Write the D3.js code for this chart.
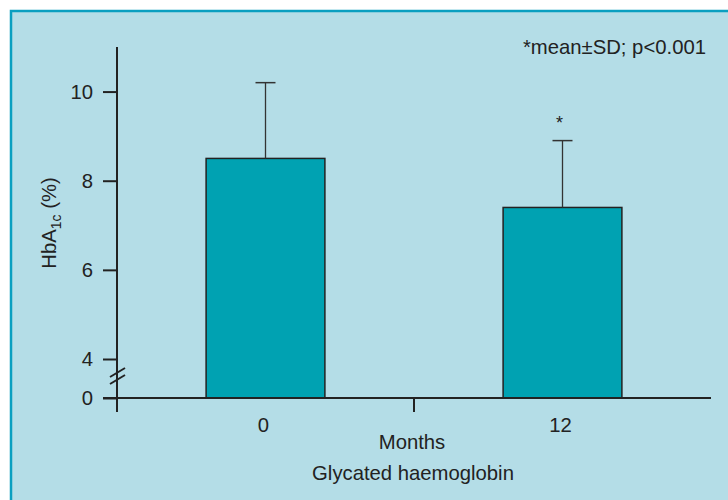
<!DOCTYPE html>
<html>
<head>
<meta charset="utf-8">
<script src="https://cdn.jsdelivr.net/npm/d3@7"></script>
<style>
  body { margin: 0; background: #fff; }
  svg { display: block; font-family: "Liberation Sans", Arial, sans-serif; }
</style>
</head>
<body>
<svg width="728" height="500"></svg>
<script>
// data
var months = ['0', '12'];
var means = [8.5, 7.4];
var sds = [1.7, 1.5];
var starred = [false, true];
var yTicks = [0, 4, 6, 8, 10];

var svg = d3.select('svg');
var fs = 20.3;

// panel background
svg.append('rect')
    .attr('x', 10).attr('y', 10)
    .attr('width', 718).attr('height', 490)
    .attr('fill', '#b4dde7');
svg.append('path')
    .attr('d', 'M11,500V11H728')
    .attr('fill', 'none')
    .attr('stroke', '#0a9fc0')
    .attr('stroke-width', 2.5);

// scales (axis is broken between 0 and 4)
var x = d3.scaleBand()
    .domain(months)
    .range([117, 711])
    .paddingInner(0.6)
    .paddingOuter(0.3);

var y = d3.scaleLinear()
    .domain([0, 4, 11])
    .range([398, 359, 47]);

var ink = '#222';

// bars
svg.selectAll('rect.bar')
    .data(means)
    .enter()
    .append('rect')
    .attr('class', 'bar')
    .attr('x', function(d, i){ return x(months[i]); })
    .attr('y', function(d){ return y(d); })
    .attr('width', x.bandwidth())
    .attr('height', function(d){ return y(0) - y(d); })
    .attr('fill', '#00a2b2')
    .attr('stroke', ink)
    .attr('stroke-width', 1.5);

// error bars
var eb = svg.selectAll('g.err')
    .data(means)
    .enter()
    .append('g')
    .attr('class', 'err')
    .attr('transform', function(d, i){
        return 'translate(' + (x(months[i]) + x.bandwidth() / 2) + ',0)';
    });

eb.append('line')
    .attr('x1', 0).attr('x2', 0)
    .attr('y1', function(d){ return y(d); })
    .attr('y2', function(d, i){ return y(d + sds[i]); })
    .attr('stroke', '#333')
    .attr('stroke-width', 1.3);

eb.append('line')
    .attr('x1', -10).attr('x2', 10)
    .attr('y1', function(d, i){ return y(d + sds[i]); })
    .attr('y2', function(d, i){ return y(d + sds[i]); })
    .attr('stroke', '#333')
    .attr('stroke-width', 1.5);

eb.filter(function(d, i){ return starred[i]; })
    .append('text')
    .attr('x', -3)
    .attr('y', function(d, i){ return y(d + sds[i]) - 3; })
    .attr('text-anchor', 'middle')
    .attr('font-size', 18)
    .attr('fill', ink)
    .text('*');

// y axis
var yAxis = d3.axisLeft(y)
    .tickValues(yTicks)
    .tickSize(14)
    .tickPadding(10)
    .tickFormat(d3.format('d'));

var gy = svg.append('g')
    .attr('transform', 'translate(117,0)')
    .call(yAxis);
gy.select('.domain').remove();
gy.selectAll('line').attr('stroke', ink).attr('stroke-width', 2);
gy.selectAll('text').attr('font-size', fs).attr('fill', ink)
    .attr('font-family', '"Liberation Sans", Arial, sans-serif');

svg.append('line')
    .attr('x1', 117).attr('x2', 117)
    .attr('y1', y(11)).attr('y2', 412)
    .attr('stroke', ink).attr('stroke-width', 2);

// break marks
[0, 7].forEach(function(off){
    svg.append('line')
        .attr('x1', 110).attr('y1', 377 + off)
        .attr('x2', 125).attr('y2', 368 + off)
        .attr('stroke', ink).attr('stroke-width', 2);
});

// x axis
svg.append('line')
    .attr('x1', 103).attr('x2', 711)
    .attr('y1', y(0)).attr('y2', y(0))
    .attr('stroke', ink).attr('stroke-width', 2);

svg.append('line')
    .attr('x1', 414).attr('x2', 414)
    .attr('y1', y(0)).attr('y2', 412)
    .attr('stroke', ink).attr('stroke-width', 2);

svg.selectAll('text.xl')
    .data(months)
    .enter()
    .append('text')
    .attr('class', 'xl')
    .attr('x', function(d){ return x(d) + x.bandwidth() / 2 - 2; })
    .attr('y', 432)
    .attr('text-anchor', 'middle')
    .attr('font-size', fs)
    .attr('fill', ink)
    .text(function(d){ return d; });

svg.append('text')
    .attr('x', 412).attr('y', 449)
    .attr('text-anchor', 'middle')
    .attr('font-size', fs)
    .attr('fill', ink)
    .text('Months');

svg.append('text')
    .attr('x', 413).attr('y', 480)
    .attr('text-anchor', 'middle')
    .attr('font-size', fs)
    .attr('fill', ink)
    .text('Glycated haemoglobin');

// y label
var yl = svg.append('text')
    .attr('transform', 'translate(56,223) rotate(-90)')
    .attr('text-anchor', 'middle')
    .attr('font-size', fs)
    .attr('fill', ink);
yl.append('tspan').text('HbA');
yl.append('tspan').attr('font-size', 14).attr('dy', 5).text('1c');
yl.append('tspan').attr('dy', -5).text(' (%)');

// note
svg.append('text')
    .attr('x', 706).attr('y', 54)
    .attr('text-anchor', 'end')
    .attr('font-size', fs)
    .attr('fill', ink)
    .text('*mean\u00b1SD; p<0.001');
</script>
</body>
</html>
